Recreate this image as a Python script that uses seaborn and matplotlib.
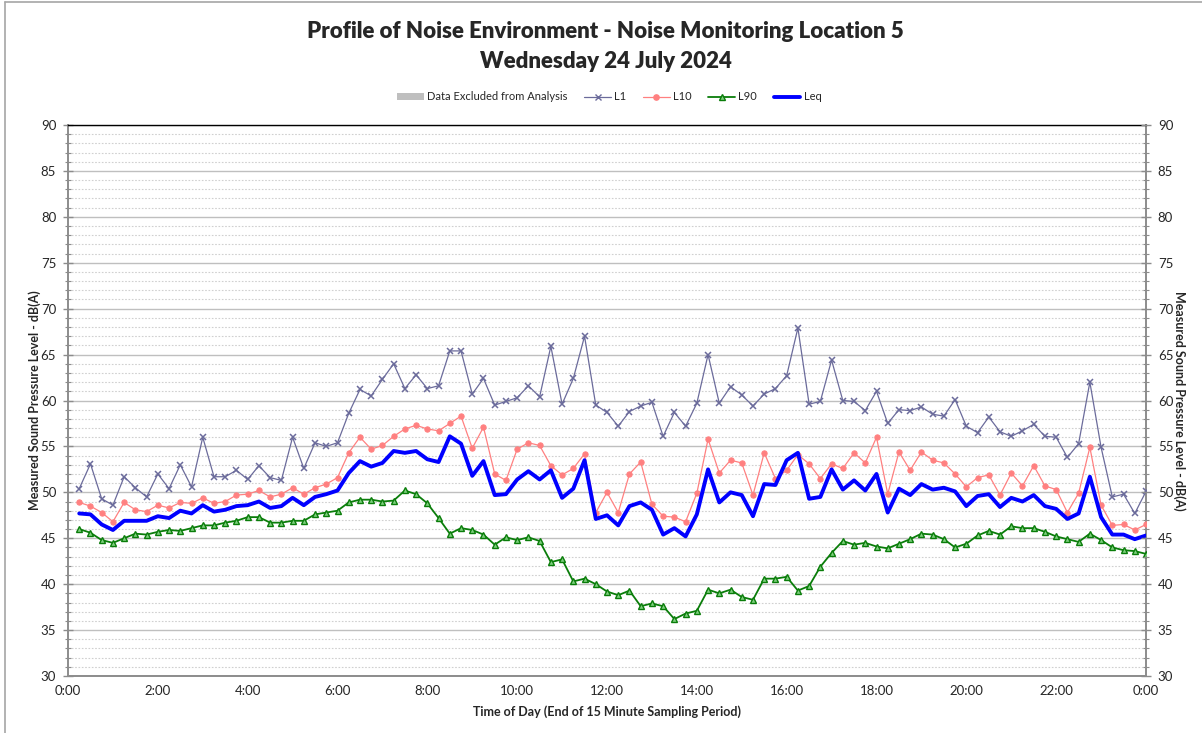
import numpy as np
import pandas as pd
import matplotlib
matplotlib.use("Agg")
import matplotlib.pyplot as plt
import matplotlib.ticker as mticker
from matplotlib.patches import Patch
from matplotlib.lines import Line2D
import seaborn as sns

# 15-minute sampling periods, end times in hours (0:15 ... 24:00)
hours = np.arange(1, 97) * 0.25

L1 = [50.4, 53.1, 49.3, 48.6, 51.7, 50.5, 49.5, 52.0, 50.4, 53.0, 50.6, 56.0, 51.7, 51.7, 52.4, 51.4,
      52.9, 51.6, 51.3, 56.0, 52.6, 55.4, 55.0, 55.4, 58.6,
      61.2, 60.5, 62.3, 64.0, 61.3, 62.8, 61.3, 61.6, 65.4, 65.4, 60.7, 62.4, 59.5, 59.9, 60.3, 61.6,
      60.4, 65.9, 59.6, 62.4, 67.0, 59.5, 58.7, 57.2,
      58.8, 59.4, 59.8, 56.1, 58.7, 57.2, 59.7, 65.0, 59.7, 61.5, 60.6, 59.4, 60.7, 61.3, 62.7, 67.9,
      59.6, 59.9, 64.4, 60.0, 59.9, 58.9, 61.0, 57.5,
      59.0, 58.9, 59.3, 58.5, 58.3, 60.1, 57.2, 56.5, 58.2, 56.6, 56.1, 56.7, 57.4, 56.1, 56.0, 53.8,
      55.3, 62.0, 54.9, 49.5, 49.8, 47.7, 50.1]

L10 = [48.9, 48.5, 47.8, 46.8, 48.9, 48.1, 47.9, 48.6, 48.3, 48.9, 48.8, 49.4, 48.8, 49.0, 49.7, 49.8,
       50.2, 49.5, 49.8, 50.5, 49.8, 50.5, 50.9, 51.6, 54.3,
       56.0, 54.7, 55.1, 56.1, 56.9, 57.3, 56.9, 56.7, 57.5, 58.3, 54.8, 57.1, 52.0, 51.3, 54.7, 55.4,
       55.1, 52.9, 51.9, 52.6, 54.2, 47.8, 50.0, 47.8,
       52.0, 53.3, 48.7, 47.4, 47.3, 46.8, 49.9, 55.8, 52.1, 53.5, 53.2, 49.7, 54.3, 51.5, 52.4, 54.1,
       53.1, 51.5, 53.1, 52.6, 54.3, 53.2, 56.0, 49.8,
       54.4, 52.4, 54.4, 53.5, 53.2, 52.0, 50.6, 51.6, 51.9, 49.7, 52.1, 50.7, 52.9, 50.7, 50.3, 47.8,
       49.9, 54.9, 48.6, 46.4, 46.5, 45.9, 46.5]

L90 = [46.0, 45.6, 44.8, 44.5, 45.0, 45.5, 45.4, 45.7, 45.9, 45.8, 46.1, 46.4, 46.4, 46.7, 46.9, 47.3,
       47.3, 46.7, 46.7, 46.9, 46.9, 47.6, 47.8, 48.0, 48.9,
       49.2, 49.2, 49.0, 49.1, 50.2, 49.8, 48.8, 47.2, 45.5, 46.1, 45.9, 45.4, 44.3, 45.1, 44.8, 45.1,
       44.7, 42.4, 42.7, 40.3, 40.6, 40.0, 39.2, 38.8,
       39.3, 37.6, 37.9, 37.6, 36.2, 36.8, 37.1, 39.4, 39.0, 39.4, 38.6, 38.3, 40.6, 40.6, 40.8, 39.3,
       39.8, 41.9, 43.4, 44.7, 44.3, 44.5, 44.1, 43.9,
       44.4, 44.9, 45.5, 45.4, 44.9, 44.0, 44.4, 45.3, 45.8, 45.4, 46.3, 46.1, 46.1, 45.7, 45.2, 44.9,
       44.6, 45.5, 44.8, 44.0, 43.7, 43.6, 43.3]

Leq = [47.7, 47.6, 46.5, 45.9, 46.9, 46.9, 46.9, 47.4, 47.2, 48.0, 47.7, 48.6, 47.9, 48.1, 48.5, 48.6,
       49.0, 48.3, 48.5, 49.4, 48.6, 49.5, 49.8, 50.2, 52.1,
       53.4, 52.8, 53.2, 54.5, 54.3, 54.5, 53.6, 53.3, 56.1, 55.3, 51.8, 53.4, 49.7, 49.8, 51.4, 52.3,
       51.4, 52.4, 49.4, 50.4, 53.5, 47.1, 47.5, 46.4,
       48.5, 48.9, 48.1, 45.4, 46.1, 45.2, 47.6, 52.5, 48.9, 50.0, 49.7, 47.4, 50.9, 50.8, 53.5, 54.3,
       49.3, 49.5, 52.5, 50.3, 51.3, 50.2, 52.0, 47.8,
       50.4, 49.7, 50.9, 50.3, 50.5, 50.1, 48.5, 49.6, 49.8, 48.4, 49.4, 49.0, 49.7, 48.5, 48.2, 47.1,
       47.7, 51.7, 47.3, 45.4, 45.4, 44.9, 45.3]

df = pd.DataFrame({"hour": hours, "L1": L1, "L10": L10, "L90": L90, "Leq": Leq})

c_l1, c_l10, c_l90, c_leq = "#6b6b9b", "#ff8080", "#0a7d0a", "#0000ff"

sns.set_style("white")
plt.rcParams['font.family'] = ['Lato', 'DejaVu Sans']

fig = plt.figure(figsize=(12.02, 7.33), dpi=100)
ax = fig.add_axes([68 / 1202, 1 - 676 / 733, (1146 - 68) / 1202, (676 - 125) / 733])

# series styles
sns.lineplot(data=df, x="hour", y="L1", ax=ax, color=c_l1, linewidth=0.9,
             marker="x", markersize=4, markeredgewidth=1.1, markeredgecolor=c_l1, zorder=3)
sns.lineplot(data=df, x="hour", y="L10", ax=ax, color=c_l10, linewidth=0.9,
             marker="o", markersize=3.8, markeredgecolor=c_l10, zorder=3)
sns.lineplot(data=df, x="hour", y="L90", ax=ax, color=c_l90, linewidth=1.3,
             marker="^", markersize=4.5, markerfacecolor="#7fcf7f", markeredgecolor=c_l90,
             markeredgewidth=1.0, zorder=3)
sns.lineplot(data=df, x="hour", y="Leq", ax=ax, color=c_leq, linewidth=2.8, zorder=4)

ax.set_xlim(0, 24)
ax.set_ylim(30, 90)
ax.xaxis.set_major_locator(mticker.MultipleLocator(2))
ax.xaxis.set_minor_locator(mticker.MultipleLocator(0.5))
ax.xaxis.set_major_formatter(mticker.FuncFormatter(lambda v, p: f"{int(v) % 24}:00"))
ax.yaxis.set_major_locator(mticker.MultipleLocator(5))
ax.yaxis.set_minor_locator(mticker.MultipleLocator(1))

ax.grid(which="major", axis="y", color="#bfbfbf", linewidth=1.0, linestyle="-")
ax.grid(which="minor", axis="y", color="#d0d0d0", linewidth=0.8, linestyle=(0, (1.5, 1.5)))
ax.set_axisbelow(True)

for side in ["left", "right", "bottom"]:
    ax.spines[side].set_color("#8c8c8c")
    ax.spines[side].set_linewidth(1.4)
ax.spines["top"].set_color("black")
ax.spines["top"].set_linewidth(1.0)

ax.tick_params(axis="both", which="major", direction="inout", length=7, width=1.0,
               color="#8c8c8c", labelsize=9.5, labelcolor="#262626", pad=5)
ax.tick_params(axis="both", which="minor", direction="inout", length=4, width=0.8, color="#8c8c8c")
ax.tick_params(axis="x", which="major", pad=3)

ax.set_xlabel("Time of Day (End of 15 Minute Sampling Period)", fontsize=9, fontweight="bold", labelpad=6)
ax.set_ylabel("Measured Sound Pressure Level - dB(A)", fontsize=9, fontweight="bold", labelpad=0)

ax2 = ax.twinx()
ax2.set_ylim(30, 90)
ax2.yaxis.set_major_locator(mticker.MultipleLocator(5))
ax2.yaxis.set_minor_locator(mticker.MultipleLocator(1))
for side in ax2.spines:
    ax2.spines[side].set_visible(False)
ax2.tick_params(axis="y", which="major", direction="inout", length=7, width=1.0,
                color="#8c8c8c", labelsize=9.5, labelcolor="#262626", pad=5)
ax2.tick_params(axis="y", which="minor", direction="inout", length=4, width=0.8, color="#8c8c8c")
ax2.set_ylabel("Measured Sound Pressure Level - dB(A)", fontsize=9, fontweight="bold",
               rotation=270, labelpad=9)

fig.text(0.504, 1 - 31 / 733, "Profile of Noise Environment - Noise Monitoring Location 5",
         ha="center", va="center", fontsize=16, fontweight="heavy")
fig.text(0.504, 1 - 61 / 733, "Wednesday 24 July 2024",
         ha="center", va="center", fontsize=16, fontweight="heavy")

handles = [
    Patch(facecolor="#bfbfbf", edgecolor="none"),
    Line2D([], [], color=c_l1, linewidth=0.9, marker="x", markersize=4),
    Line2D([], [], color=c_l10, linewidth=0.9, marker="o", markersize=3.8),
    Line2D([], [], color=c_l90, linewidth=1.3, marker="^", markersize=4.5,
           markerfacecolor="#7fcf7f", markeredgecolor=c_l90),
    Line2D([], [], color=c_leq, linewidth=2.8),
]
labels = ["Data Excluded from Analysis", "L1", "L10", "L90", "Leq"]
fig.legend(handles, labels, loc="center", bbox_to_anchor=(0.507, 1 - 97 / 733), ncol=5,
           frameon=False, fontsize=8, handlelength=2.4, handleheight=0.6, columnspacing=1.5,
           handletextpad=0.3)

# chart area border (left / top edges visible in the reference)
fig.add_artist(Line2D([5 / 1202, 5 / 1202], [0, 1 - 2 / 733], transform=fig.transFigure,
                      color="#a6a6a6", linewidth=1.2))
fig.add_artist(Line2D([5 / 1202, 1], [1 - 2 / 733, 1 - 2 / 733], transform=fig.transFigure,
                      color="#a6a6a6", linewidth=1.2))

fig.savefig("out.png", dpi=100)
